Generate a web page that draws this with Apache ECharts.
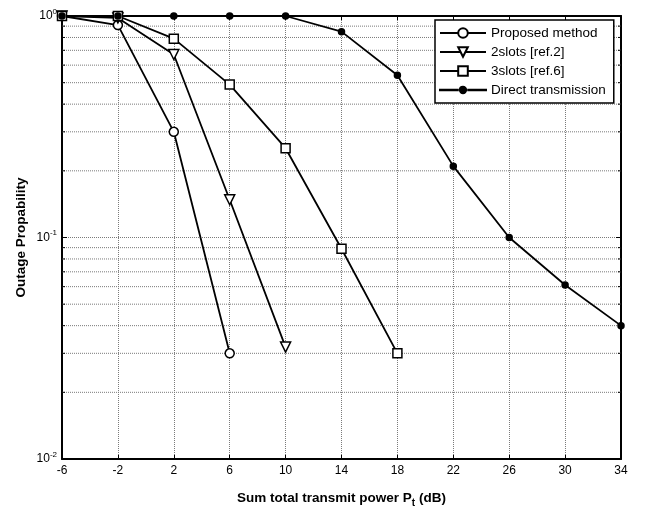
<!DOCTYPE html>
<html>
<head>
<meta charset="utf-8">
<script src="https://cdn.jsdelivr.net/npm/echarts@6/dist/echarts.min.js"></script>
<style>
  html, body { margin: 0; padding: 0; background: #fff; }
  #chart { width: 648px; height: 513px; }
</style>
</head>
<body>
<div id="chart"></div>
<script>
// x positions (dB)
var power = [-6, -2, 2, 6, 10, 14, 18, 22, 26, 30, 34];

// outage probability
var proposed = [1.0, 0.91, 0.30, 0.030];
var slots2 = [1.0, 0.98, 0.67, 0.148, 0.032];
var slots3 = [1.0, 1.0, 0.79, 0.49, 0.253, 0.089, 0.030];
var direct = [1.0, 1.0, 1.0, 1.0, 1.0, 0.85, 0.54, 0.21, 0.10, 0.061, 0.040];

// log minor grid values
var minorY = [0.02, 0.03, 0.04, 0.05, 0.06, 0.07, 0.08, 0.09,
              0.2, 0.3, 0.4, 0.5, 0.6, 0.7, 0.8, 0.9];

var font = 'Liberation Sans, Arial, sans-serif';
var gridColor = '#7a7a7a';

function pairs(vals) {
  var out = [];
  for (var i = 0; i < vals.length; i++) {
    out.push([power[i], vals[i]]);
  }
  return out;
}

function expLabel(v) {
  var e = Math.round(Math.log(v) / Math.LN10);
  return '{b|10}{sup|' + e + '}';
}

var lineSeries = function(name, vals, symbol, size, fill, rotate) {
  return {
    name: name,
    type: 'line',
    data: pairs(vals),
    symbol: symbol,
    symbolSize: size,
    symbolRotate: rotate || 0,
    showAllSymbol: true,
    lineStyle: {color: '#000', width: 1.8},
    itemStyle: {color: fill, borderColor: '#000', borderWidth: 1.5},
    z: 5
  };
};

// legend icon for the dot series: line with small filled dot
var dotIcon = 'path://M0,3.2L17,3.2L17,2.8L0,2.8Z M27,2.8L44,2.8L44,3.2L27,3.2Z M22,0A3,3 0 1,1 21.99,0Z';

var myChart = echarts.init(document.getElementById('chart'));
var option = {
  animation: false,
  backgroundColor: '#fff',
  textStyle: {fontFamily: font},
  grid: {left: 62, right: 27, top: 16, bottom: 53},
  xAxis: [
    {
      type: 'value',
      min: -6,
      max: 34,
      interval: 4,
      name: 'Sum total transmit power P{sub|t} (dB)',
      nameLocation: 'middle',
      nameGap: 30,
      nameTextStyle: {
        fontFamily: font, fontSize: 13.5, fontWeight: 'bold', color: '#000',
        rich: {sub: {fontFamily: font, fontSize: 10, fontWeight: 'bold', color: '#000', padding: [9, 0, 0, 0]}}
      },
      axisLine: {onZero: false, lineStyle: {color: '#000', width: 2}},
      axisTick: {inside: true, length: 4, lineStyle: {color: '#000'}},
      axisLabel: {fontFamily: font, fontSize: 12, color: '#000', margin: 6},
      splitLine: {show: true, lineStyle: {color: gridColor, type: 'dotted', width: 1}}
    },
    {
      type: 'value',
      position: 'top',
      min: -6,
      max: 34,
      interval: 4,
      axisLine: {onZero: false, lineStyle: {color: '#000', width: 2}},
      axisTick: {inside: true, length: 4, lineStyle: {color: '#000'}},
      axisLabel: {show: false},
      splitLine: {show: false}
    }
  ],
  yAxis: [
    {
      type: 'log',
      logBase: 10,
      min: 0.01,
      max: 1,
      splitNumber: 2,
      name: 'Outage Propability',
      nameLocation: 'middle',
      nameGap: 34,
      nameMoveOverlap: false,
      nameTextStyle: {fontFamily: font, fontSize: 13.5, fontWeight: 'bold', color: '#000'},
      axisLine: {onZero: false, lineStyle: {color: '#000', width: 2}},
      axisTick: {inside: true, length: 5, lineStyle: {color: '#000'}},
      axisLabel: {
        formatter: expLabel,
        margin: 5,
        rich: {
          b: {fontFamily: font, fontSize: 12, color: '#000'},
          sup: {fontFamily: font, fontSize: 8, color: '#000', padding: [0, 0, 9, 0]}
        }
      },
      splitLine: {show: true, lineStyle: {color: gridColor, type: 'dotted', width: 1}}
    },
    {
      type: 'log',
      logBase: 10,
      min: 0.01,
      max: 1,
      splitNumber: 2,
      position: 'right',
      axisLine: {onZero: false, lineStyle: {color: '#000', width: 2}},
      axisTick: {inside: true, length: 5, lineStyle: {color: '#000'}},
      axisLabel: {show: false},
      splitLine: {show: false}
    }
  ],
  legend: {
    left: 435,
    top: 20,
    orient: 'vertical',
    backgroundColor: '#fff',
    borderColor: '#000',
    borderWidth: 1.5,
    borderRadius: 0,
    padding: [6, 8, 6, 4],
    itemGap: 5,
    itemWidth: 46,
    itemHeight: 12,
    textStyle: {fontFamily: font, fontSize: 13.5, color: '#000', padding: [0, 0, 0, 0]},
    data: [
      'Proposed method',
      '2slots [ref.2]',
      '3slots [ref.6]',
      {name: 'Direct transmission', icon: dotIcon}
    ]
  },
  series: [
    {
      type: 'custom',
      silent: true,
      z: 1,
      data: minorY,
      renderItem: function(params, api) {
        var cs = params.coordSys;
        var y = api.coord([-6, api.value(0)])[1];
        var x0 = cs.x, x1 = cs.x + cs.width;
        return {
          type: 'group',
          children: [
            {type: 'line', shape: {x1: x0, y1: y, x2: x1, y2: y},
             style: {stroke: gridColor, lineWidth: 1, lineDash: [1, 1]}},
            {type: 'line', shape: {x1: x0, y1: y, x2: x0 + 3, y2: y},
             style: {stroke: '#000', lineWidth: 1}},
            {type: 'line', shape: {x1: x1 - 3, y1: y, x2: x1, y2: y},
             style: {stroke: '#000', lineWidth: 1}}
          ]
        };
      },
      encode: {y: 0}
    },
    lineSeries('Proposed method', proposed, 'circle', 9, '#fff'),
    lineSeries('2slots [ref.2]', slots2, 'triangle', 10, '#fff', 180),
    lineSeries('3slots [ref.6]', slots3, 'rect', 9, '#fff'),
    lineSeries('Direct transmission', direct, 'circle', 6, '#000')
  ]
};
myChart.setOption(option);
</script>
</body>
</html>
